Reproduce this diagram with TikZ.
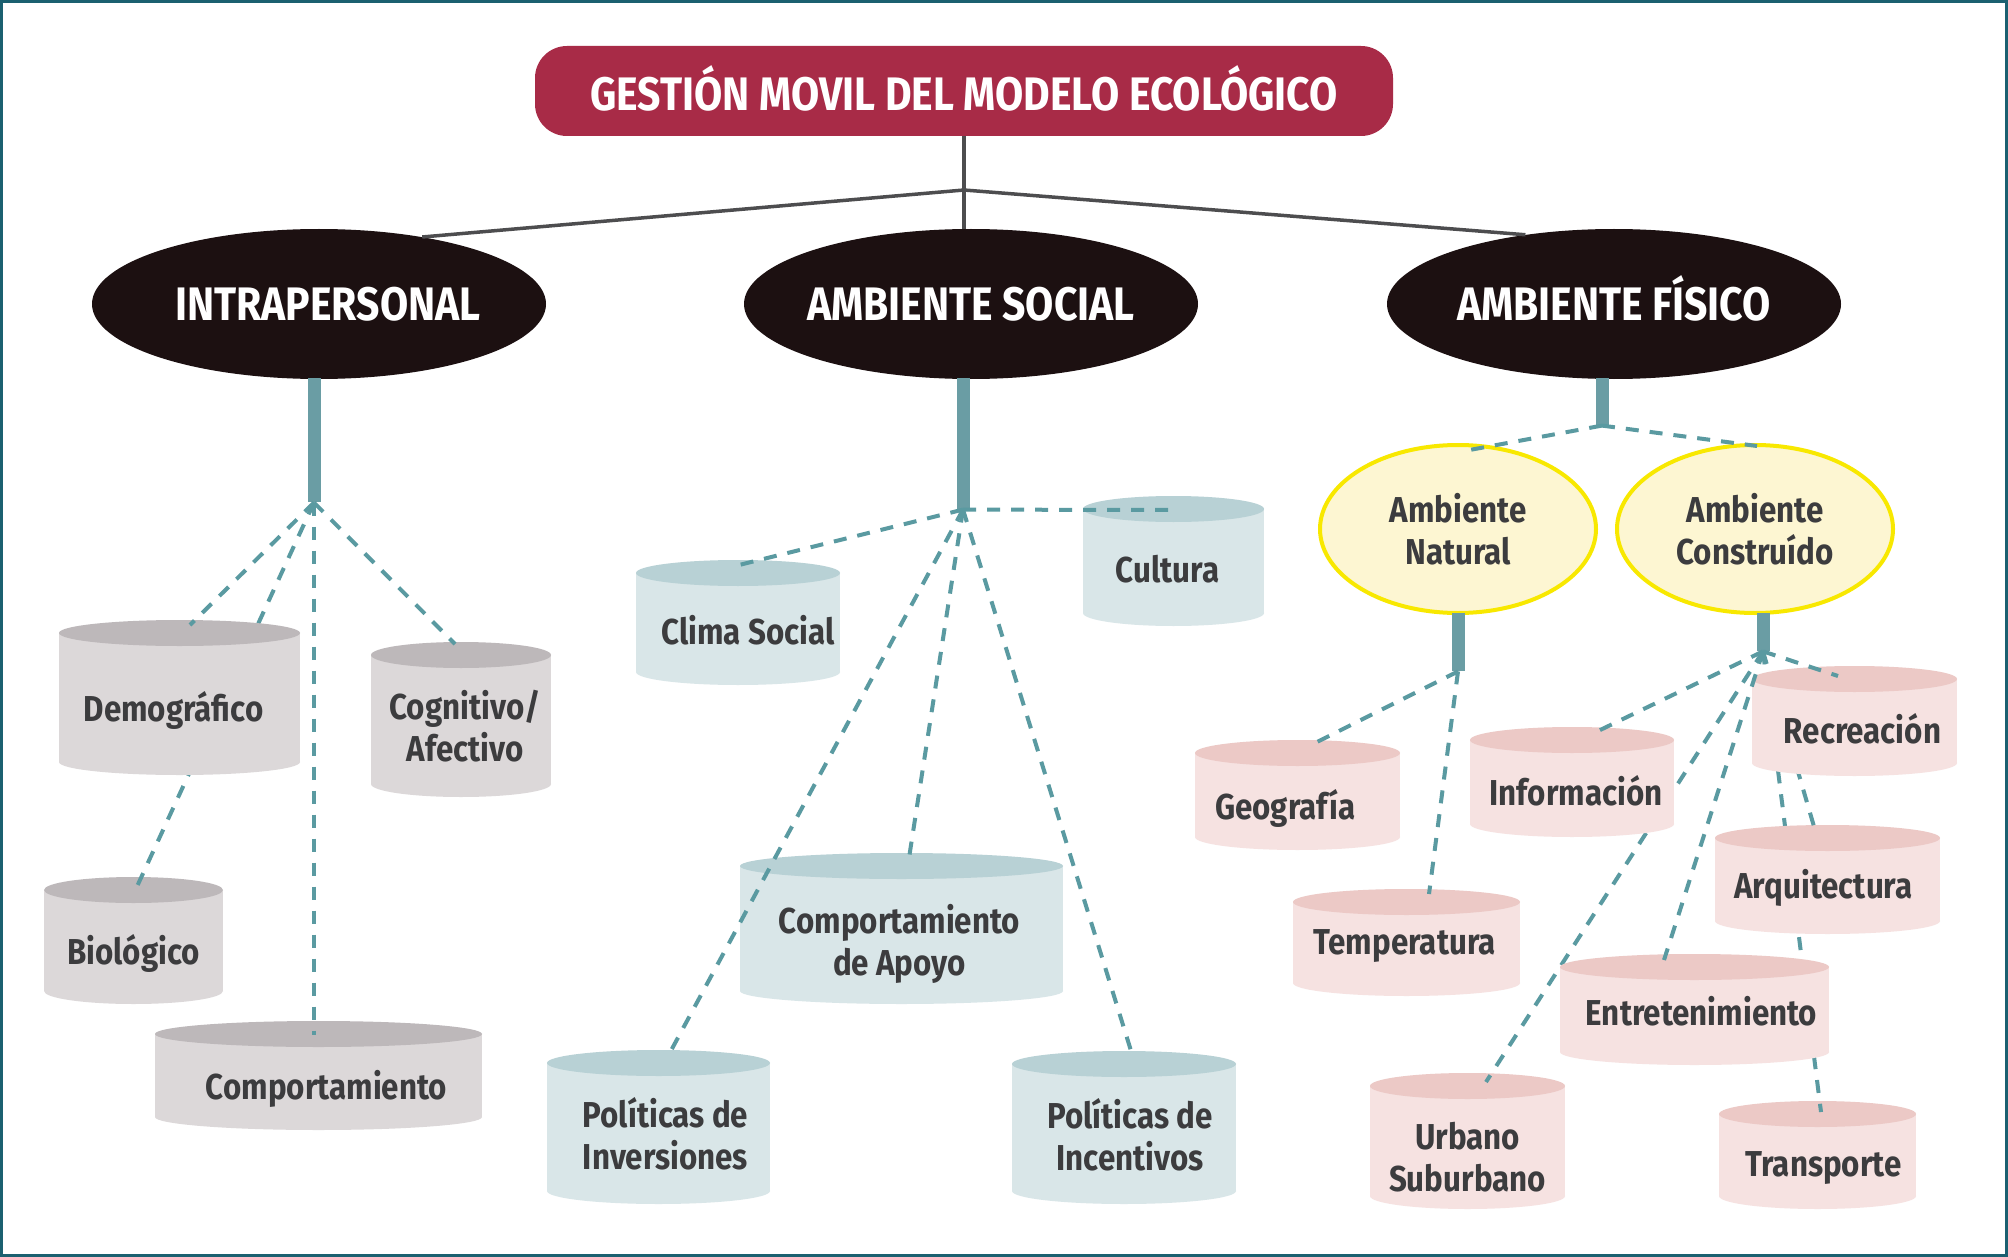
\documentclass[tikz,border=0pt]{standalone}
\usepackage{fontspec}
\setmainfont{Fira Sans}[FakeStretch=0.87]
\usetikzlibrary{calc,shapes.geometric}
\definecolor{framec}{HTML}{1B6070}
\definecolor{titlec}{HTML}{A82B47}
\definecolor{blackc}{HTML}{1C1011}
\definecolor{linec}{HTML}{4D4D4F}
\definecolor{stemc}{HTML}{6A9DA4}
\definecolor{dashc}{HTML}{5A9AA1}
\definecolor{txtc}{HTML}{3C3C3E}
\definecolor{grayb}{HTML}{DCD8D9}
\definecolor{grayt}{HTML}{BDB8BA}
\definecolor{tealb}{HTML}{D9E6E8}
\definecolor{tealt}{HTML}{B8D1D5}
\definecolor{pinkb}{HTML}{F6E2E1}
\definecolor{pinkt}{HTML}{ECC9C6}
\definecolor{yelf}{HTML}{FDF6D2}
\definecolor{yeld}{HTML}{F8E800}
\tikzset{
  titlebox/.style={rectangle, rounded corners=32pt, fill=titlec, text=white, minimum width=858pt, minimum height=90pt, inner sep=0pt, text height=40pt, text depth=0pt, font=\fontsize{47}{52}\selectfont\bfseries},
  blackell/.style={ellipse, fill=blackc, minimum width=454pt, minimum height=150pt, inner sep=0pt},
  bigtext/.style={text=white, inner sep=0pt, text height=32pt, text depth=0pt, font=\fontsize{47}{52}\selectfont\bfseries},
  yelell/.style={ellipse, fill=yelf, draw=yeld, line width=4pt, minimum width=276pt, minimum height=168pt, inner sep=0pt, text=txtc, align=center, font=\fontsize{36}{42}\selectfont\bfseries},
  stembar/.style={rectangle, fill=stemc, minimum width=13pt, inner sep=0pt, anchor=north},
  cyltext/.style={text=txtc, align=center, inner sep=0pt, font=\fontsize{36}{42}\selectfont\bfseries},
  graylink/.style={draw=linec, line width=3.5pt},
  dashlink/.style={draw=dashc, line width=4pt, dash pattern=on 13pt off 11pt},
}
% cylinder: [text options], name, x1, x2, yTop, yBottom, body colour, top colour, text
\newcommand\cylbox[9][]{%
  \pgfmathsetmacro\cx{(#3+#4)/2}%
  \pgfmathsetmacro\hw{(#4-#3)/2}%
  \pgfmathsetmacro\yt{-(#5+13)}%
  \pgfmathsetmacro\yb{-(#6-13)}%
  \pgfmathsetmacro\ty{-((#5+26+#6)/2)}%
  \fill[#7] (#3,\yt) rectangle (#4,\yb);
  \fill[#7] (\cx,\yb) ellipse[x radius=\hw pt, y radius=13pt];
  \fill[#8] (\cx,\yt) ellipse[x radius=\hw pt, y radius=13pt];
  \node[cyltext,#1] (#2) at (\cx,\ty) {#9};
}
\begin{document}
\begin{tikzpicture}[x=1pt,y=1pt]
\useasboundingbox (0,0) rectangle (2008,-1257);
\fill[white] (0,0) rectangle (2008,-1257);
\draw[framec, line width=3pt] (1.5,-1.5) rectangle (2006.5,-1255.5);

% title and top-level ellipses
\node[titlebox] (title) at (964,-91) {GESTIÓN MOVIL DEL MODELO ECOLÓGICO};
\coordinate (junc) at (964,-190);
\node[blackell] (intra) at (319,-304) {};
\node[blackell] (soc) at (971,-304) {};
\node[blackell] (fis) at (1614,-304) {};
\draw[graylink] (title.south) -- (junc) -- (junc |- soc.north);
\draw[graylink] (junc) -- (intra.33);
\draw[graylink] (junc) -- (fis.142);
\node[bigtext, xshift=9pt] (intra-t) at (intra) {INTRAPERSONAL};
\node[bigtext] (soc-t) at (soc) {AMBIENTE SOCIAL};
\node[bigtext] (fis-t) at (fis) {AMBIENTE FÍSICO};

% stems
\node[stembar, minimum height=124pt] (stemI) at ($(intra.south)+(-5,1)$) {};
\node[stembar, minimum height=131pt] (stemS) at ($(soc.south)+(-8,1)$) {};
\node[stembar, minimum height=47pt] (stemF) at ($(fis.south)+(-12,1)$) {};

% yellow ellipses
\node[yelell] (nat) at (1458,-529) {Ambiente\\Natural};
\node[yelell] (cons) at (1755,-529) {Ambiente\\Construído};
\node[stembar, minimum height=58pt] (stemN) at ($(nat.south)+(0,2)$) {};
\node[stembar, minimum height=38pt] (stemC) at ($(cons.south)+(8,2)$) {};

% end points of connectors
\coordinate (e-nat) at (1464,-451);
\coordinate (e-cons) at (1757,-446);
\coordinate (e-demo) at (190,-625);
\coordinate (e-bio) at (134,-893);
\coordinate (e-comp) at (314,-1035);
\coordinate (e-cog) at (455,-644);
\coordinate (e-clima) at (739,-565);
\coordinate (e-cult) at (1176,-510);
\coordinate (e-inv) at (667,-1058);
\coordinate (e-apoyo) at (909,-858);
\coordinate (e-incent) at (1132,-1054);
\coordinate (e-geo) at (1311,-745);
\coordinate (e-temp) at (1429,-894);
\coordinate (e-info) at (1596,-732);
\coordinate (e-recr) at (1838,-676);
\coordinate (e-urb) at (1486,-1082);
\coordinate (e-entr) at (1664,-960);
\coordinate (e-arq) at (1815,-830);
\coordinate (e-trans) at (1821,-1112);

\draw[dashlink] (stemF.south) -- (e-nat);
\draw[dashlink] (stemF.south) -- (e-cons);

% cylinders reached by lines that pass behind other cylinders
\cylbox{bio}{44}{223}{877}{1004}{grayb}{grayt}{Biológico}
\cylbox[yshift=-3pt]{urb}{1370}{1565}{1073}{1209}{pinkb}{pinkt}{Urbano\\Suburbano}
\cylbox[xshift=6pt]{trans}{1719}{1916}{1101}{1209}{pinkb}{pinkt}{Transporte}
\draw[dashlink] (stemI.south) -- (e-bio);
\draw[dashlink] (stemC.south) -- (e-urb);
\draw[dashlink] (stemC.south) -- (e-trans);
\cylbox[xshift=-4pt,yshift=5pt]{arq}{1715}{1940}{825}{934}{pinkb}{pinkt}{Arquitectura}
\cylbox[xshift=7pt,yshift=11pt]{entr}{1560}{1829}{954}{1065}{pinkb}{pinkt}{Entretenimiento}
\draw[dashlink] (stemC.south) -- (e-arq);

% remaining cylinders
\cylbox[xshift=-6pt]{demo}{59}{300}{620}{775}{grayb}{grayt}{Demográfico}
\cylbox[xshift=4pt,yshift=6pt]{cog}{371}{551}{642}{797}{grayb}{grayt}{Cognitivo/\\Afectivo}
\cylbox[xshift=8pt]{comp}{155}{482}{1021}{1130}{grayb}{grayt}{Comportamiento}
\cylbox[xshift=10pt,yshift=5pt]{clima}{636}{840}{560}{685}{tealb}{tealt}{Clima Social}
\cylbox[xshift=-6pt,yshift=5pt]{cult}{1083}{1264}{496}{626}{tealb}{tealt}{Cultura}
\cylbox[xshift=-2pt,yshift=-2pt]{apoyo}{740}{1063}{853}{1004}{tealb}{tealt}{Comportamiento\\de Apoyo}
\cylbox[xshift=7pt,yshift=6pt]{inv}{547}{770}{1050}{1204}{tealb}{tealt}{Políticas de\\Inversiones}
\cylbox[xshift=6pt,yshift=6pt]{incent}{1012}{1236}{1051}{1204}{tealb}{tealt}{Políticas de\\Incentivos}
\cylbox[xshift=-12pt]{geo}{1195}{1400}{740}{850}{pinkb}{pinkt}{Geografía}
\cylbox[xshift=4pt,yshift=4pt]{info}{1470}{1674}{727}{837}{pinkb}{pinkt}{Información}
\cylbox[xshift=8pt,yshift=5pt]{recr}{1752}{1957}{666}{776}{pinkb}{pinkt}{Recreación}
\cylbox[xshift=-2pt,yshift=9pt]{temp}{1293}{1520}{889}{996}{pinkb}{pinkt}{Temperatura}

% dashed connectors drawn on top
\draw[dashlink] (stemI.south) -- (e-demo);
\draw[dashlink] (stemI.south) -- (e-comp);
\draw[dashlink] (stemI.south) -- (e-cog);
\draw[dashlink] (stemS.south) -- (e-clima);
\draw[dashlink] (stemS.south) -- (e-cult);
\draw[dashlink] (stemS.south) -- (e-inv);
\draw[dashlink] (stemS.south) -- (e-apoyo);
\draw[dashlink] (stemS.south) -- (e-incent);
\draw[dashlink] (stemN.south) -- (e-geo);
\draw[dashlink] (stemN.south) -- (e-temp);
\draw[dashlink] (stemC.south) -- (e-info);
\draw[dashlink] (stemC.south) -- (e-recr);
\draw[dashlink] (stemC.south) -- (e-entr);
\end{tikzpicture}
\end{document}
